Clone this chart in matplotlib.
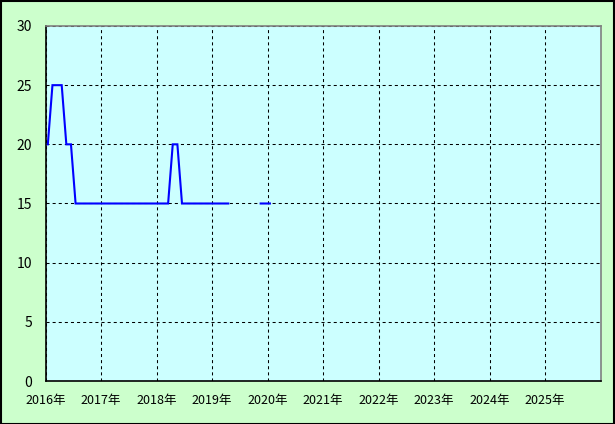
import numpy as np
import matplotlib
matplotlib.use("Agg")
import matplotlib.pyplot as plt

plt.rcParams['font.family'] = ['Noto Sans CJK JP', 'DejaVu Sans']
plt.rcParams['lines.scale_dashes'] = False

# 月ごとの値 (2016年1月から, None は欠測)
start_year = 2016
values = [20, 25, 25, 25, 20, 20,
          15, 15, 15, 15, 15, 15,
          15, 15, 15, 15, 15, 15, 15, 15, 15, 15, 15, 15,
          15, 15, 15, 20, 20, 15, 15, 15, 15, 15, 15, 15,
          15, 15, 15, 15, None, None, None, None, None, None,
          15, 15, 15]
years = list(range(2016, 2026))
year_labels = [f"{y}年" for y in years]
y_ticks = [0, 5, 10, 15, 20, 25, 30]

vals = np.array([np.nan if v is None else v for v in values], dtype=float)
x = start_year + (np.arange(len(vals)) + 0.5) / 12

fig = plt.figure(figsize=(6.15, 4.24), dpi=100, facecolor='#ccffcc')
ax = fig.add_axes([0.074, 0.1014, 0.9028, 0.8373])
ax.set_facecolor('#ccffff')

ax.plot(x, vals, color='#0000ff', lw=1.5, solid_joinstyle='miter', zorder=3)

ax.set_xlim(2016, 2026)
ax.set_ylim(0, 30)
ax.set_xticks(years)
ax.set_xticklabels(year_labels)
ax.set_yticks(y_ticks)
ax.tick_params(axis='both', length=0, colors='black')
ax.tick_params(axis='x', pad=9, labelsize=9)
ax.tick_params(axis='y', pad=9.5, labelsize=10)

ax.grid(True, color='black', lw=0.75, linestyle=(0, (2.2, 2.2)))
ax.set_axisbelow(True)

ax.spines['left'].set_color('black')
ax.spines['bottom'].set_color('black')
ax.spines['top'].set_color('#808080')
ax.spines['right'].set_color('#808080')
for s in ax.spines.values():
    s.set_linewidth(1.2)

# 外枠
fig.patches.append(plt.Rectangle((0.001, 0.001), 0.997, 0.997, transform=fig.transFigure,
                                 fill=False, edgecolor='black', lw=1.5))

fig.savefig('out.png', dpi=100, facecolor=fig.get_facecolor())
